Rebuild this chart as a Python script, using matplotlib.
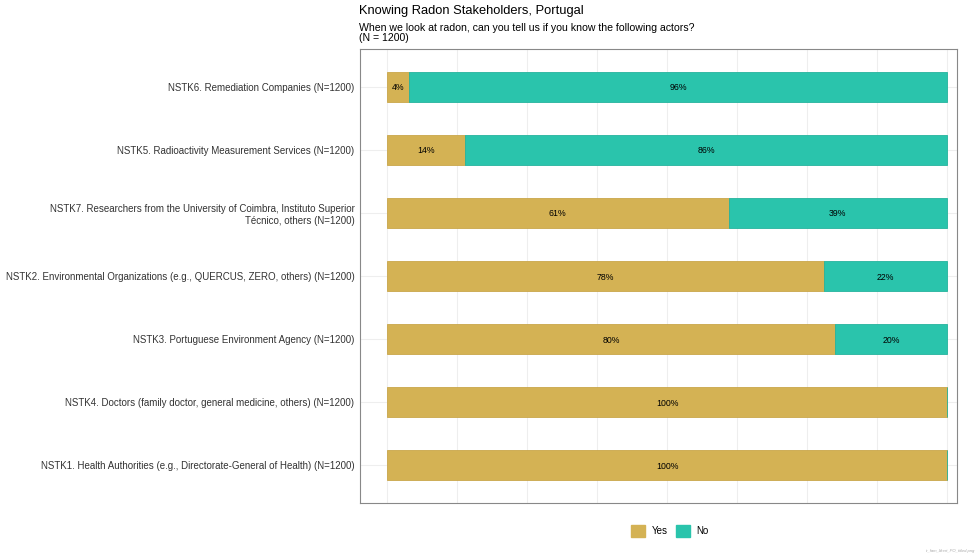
import matplotlib.pyplot as plt
from matplotlib.patches import Patch

plt.rcParams['font.family'] = ['Liberation Sans', 'DejaVu Sans']

items = [
    "NSTK6. Remediation Companies (N=1200)",
    "NSTK5. Radioactivity Measurement Services (N=1200)",
    "NSTK7. Researchers from the University of Coimbra, Instituto Superior\nTécnico, others (N=1200)",
    "NSTK2. Environmental Organizations (e.g., QUERCUS, ZERO, others) (N=1200)",
    "NSTK3. Portuguese Environment Agency (N=1200)",
    "NSTK4. Doctors (family doctor, general medicine, others) (N=1200)",
    "NSTK1. Health Authorities (e.g., Directorate-General of Health) (N=1200)",
]
yes_pct = [4, 14, 61, 78, 80, 100, 100]
no_pct = [96, 86, 39, 22, 20, 0, 0]

yes_color = "#D4B254"
no_color = "#2AC4AC"

fig = plt.figure(figsize=(9.8, 5.6), dpi=100)
ax = fig.add_axes([360 / 980, 1 - 503 / 560, 597 / 980, 454 / 560])

ypos = list(range(len(items)))
yes = [v / 100 for v in yes_pct]
no = [v / 100 for v in no_pct]

ax.barh(ypos, yes, height=0.48, color=yes_color, edgecolor="#C9A64A", linewidth=0.6, zorder=3)
ax.barh(ypos, no, left=yes, height=0.48, color=no_color, edgecolor="#25B39D", linewidth=0.6, zorder=3)

for y, a, b in zip(ypos, yes, no):
    if a > 0:
        ax.text(a / 2, y, f"{round(a * 100)}%", ha="center", va="center_baseline", fontsize=6.3, zorder=4)
    if b > 0:
        ax.text(a + b / 2, y, f"{round(b * 100)}%", ha="center", va="center_baseline", fontsize=6.3, zorder=4)

ax.set_xlim(-27 / 560, 1 + 10 / 560)
ax.set_ylim(len(items) - 1 + 0.6, -0.6)
ax.set_xticks([i * 0.125 for i in range(9)])
ax.set_xticklabels([])
ax.set_yticks(ypos)
ax.set_yticklabels(items, fontsize=7, color="#333333")
ax.tick_params(axis="both", length=0, pad=4)
ax.grid(True, color="#EEEEEE", linewidth=0.8, zorder=0)
for s in ax.spines.values():
    s.set_color("#888888")
    s.set_linewidth(0.8)

fig.text(359 / 980, 1 - 11 / 560, "Knowing Radon Stakeholders, Portugal", fontsize=9.3, va="center")
fig.text(359 / 980, 1 - 33 / 560, "When we look at radon, can you tell us if you know the following actors?\n(N = 1200)",
         fontsize=7.6, va="center", linespacing=0.95)

handles = [Patch(facecolor=yes_color, edgecolor=yes_color, label="Yes"),
           Patch(facecolor=no_color, edgecolor=no_color, label="No")]
fig.legend(handles=handles, loc="center", bbox_to_anchor=(670 / 980, 1 - 531 / 560), ncol=2,
           frameon=False, fontsize=7, handlelength=1.45, handleheight=1.65, columnspacing=0.8,
           handletextpad=0.7)

fig.text(975 / 980, 1 - 551 / 560, "tr_fam_likert_PO_titled.png", fontsize=3, color="#AAAAAA",
         ha="right", va="center", style="italic")

fig.savefig("out.png", dpi=100)
